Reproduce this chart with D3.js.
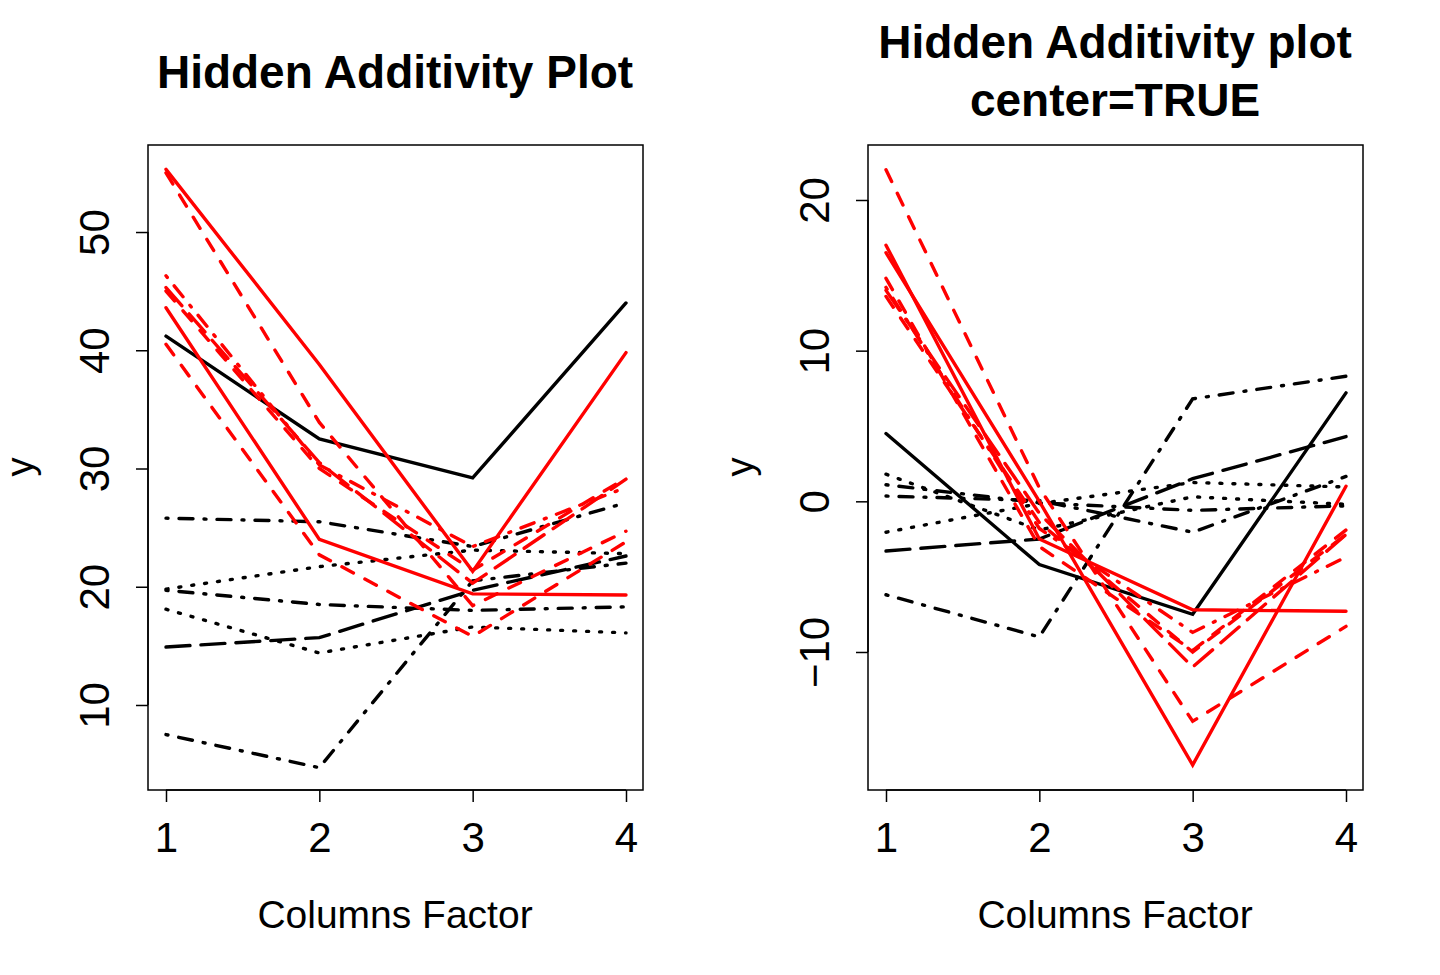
<!DOCTYPE html>
<html>
<head>
<meta charset="utf-8">
<script src="https://cdn.jsdelivr.net/npm/d3@7"></script>
<style>
body { margin: 0; background: #fff; }
text { font-family: "Liberation Sans", Arial, sans-serif; }
</style>
</head>
<body>
<svg id="chart" width="1440" height="975"></svg>
<script>
var columns = [1, 2, 3, 4];

// one row per line; colour and line type per row
var rowColors = ["black", "black", "black", "black", "black", "black", "black",
    "red", "red", "red", "red", "red", "red", "red"];
var rowTypes = ["solid", "dotdash", "dotted", "dotdash", "dotted", "longdash", "dotdash",
    "solid", "solid", "dashed", "dashed", "longdash", "dotdash", "dashed"];

var rawRows = [
    [41.2, 32.5, 29.2, 44.0],
    [25.8, 25.5, 23.4, 27.1],
    [19.8, 21.7, 23.1, 22.8],
    [19.7, 18.5, 18.0, 18.3],
    [18.1, 14.4, 16.6, 16.1],
    [14.9, 15.7, 19.7, 22.6],
    [7.5, 4.7, 20.5, 22.0],
    [55.3, 38.8, 21.3, 39.8],
    [43.6, 24.0, 19.4, 19.3],
    [55.0, 33.9, 18.4, 24.7],
    [40.5, 22.7, 15.8, 23.8],
    [45.3, 30.5, 20.3, 29.1],
    [46.3, 30.3, 23.4, 28.4],
    [45.0, 30.0, 21.4, 29.2]
];

var centeredRows = [
    [4.5, -4.2, -7.5, 7.2],
    [0.35, 0.05, -2.05, 1.65],
    [-2.05, -0.15, 1.25, 0.95],
    [1.1, -0.1, -0.6, -0.3],
    [1.8, -1.9, 0.3, -0.2],
    [-3.3, -2.5, 1.5, 4.3],
    [-6.2, -9.0, 6.8, 8.3],
    [16.5, 0.0, -17.5, 1.0],
    [17.0, -2.5, -7.2, -7.3],
    [22.0, 0.9, -14.6, -8.3],
    [14.8, -3.0, -9.9, -1.9],
    [14.0, -0.8, -11.0, -2.2],
    [14.2, -1.8, -8.7, -3.7],
    [13.6, -1.4, -10.0, -2.2]
];

var leftTicks = [10, 20, 30, 40, 50];
var rightTicks = [-10, 0, 10, 20];

var dashes = {
    solid: null,
    dashed: "13,13",
    dotted: "2,11",
    dotdash: "2,11,14,11",
    longdash: "24,11"
};

var svg = d3.select("#chart");

function panel(opts) {
    var x = d3.scaleLinear().domain([1, 4]).range([opts.left + 18, opts.left + 478]);
    var y = d3.scaleLinear().domain(opts.domain).range([790, 145]);
    var g = svg.append("g");

    var line = d3.line()
        .x(function (d, i) { return x(columns[i]); })
        .y(function (d) { return y(d); });

    g.selectAll("path.row")
        .data(opts.rows)
        .enter()
        .append("path")
        .attr("class", "row")
        .attr("d", line)
        .attr("fill", "none")
        .attr("stroke", function (d, i) { return rowColors[i]; })
        .attr("stroke-width", 3.4)
        .attr("stroke-linecap", "round")
        .attr("stroke-dasharray", function (d, i) { return dashes[rowTypes[i]]; });

    g.append("rect")
        .attr("x", opts.left).attr("y", 145)
        .attr("width", 495).attr("height", 645)
        .attr("fill", "none").attr("stroke", "black").attr("stroke-width", 1.5);

    var xa = g.append("g")
        .attr("transform", "translate(0,790)")
        .call(d3.axisBottom(x).tickValues(columns).tickSize(12).tickPadding(20).tickFormat(d3.format("d")));
    xa.select(".domain").attr("stroke-width", 1.5).attr("d", "M" + x(1) + ",0H" + x(4));
    xa.selectAll("line").attr("stroke-width", 1.5);
    xa.selectAll("text").attr("font-size", 42).attr("fill", "black")
        .attr("font-family", "Liberation Sans, Arial, sans-serif");

    var ya = g.append("g")
        .attr("transform", "translate(" + opts.left + ",0)")
        .call(d3.axisLeft(y).tickValues(opts.ticks).tickSize(12).tickFormat(function (d) {
            return d < 0 ? "\u2212" + Math.abs(d) : d;
        }));
    ya.select(".domain").attr("stroke-width", 1.5)
        .attr("d", "M0," + y(opts.ticks[0]) + "V" + y(opts.ticks[opts.ticks.length - 1]));
    ya.selectAll("line").attr("stroke-width", 1.5);
    ya.selectAll("text")
        .attr("font-size", 42).attr("fill", "black")
        .attr("font-family", "Liberation Sans, Arial, sans-serif")
        .attr("x", null).attr("dy", null)
        .attr("text-anchor", "middle")
        .attr("transform", "translate(-39,0) rotate(-90)");

    g.append("text")
        .attr("x", opts.left + 247).attr("y", 928)
        .attr("text-anchor", "middle").attr("font-size", 39)
        .text("Columns Factor");

    g.append("text")
        .attr("transform", "translate(" + (opts.left - 115) + ",467) rotate(-90)")
        .attr("text-anchor", "middle").attr("font-size", 38)
        .text("y");

    opts.title.forEach(function (t, i) {
        g.append("text")
            .attr("x", opts.left + 247)
            .attr("y", opts.titleY + i * 58)
            .attr("text-anchor", "middle")
            .attr("font-size", 46).attr("font-weight", "bold")
            .text(t);
    });
}

panel({ left: 148, domain: [2.81, 57.36], rows: rawRows, ticks: leftTicks,
    title: ["Hidden Additivity Plot"], titleY: 88 });
panel({ left: 868, domain: [-19.16, 23.65], rows: centeredRows, ticks: rightTicks,
    title: ["Hidden Additivity plot", "center=TRUE"], titleY: 58 });
</script>
</body>
</html>
